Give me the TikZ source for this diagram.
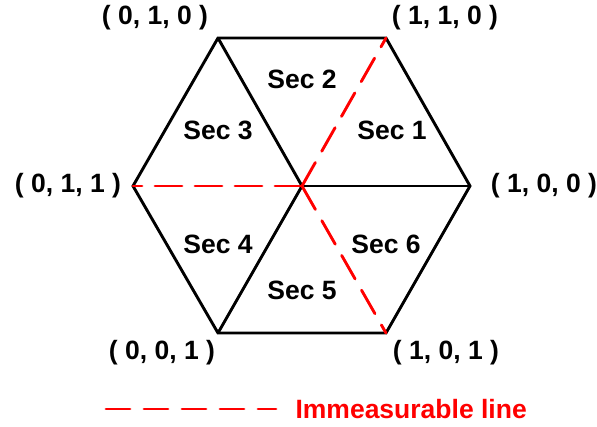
\documentclass[tikz,border=0pt]{standalone}
\usepackage{fontspec}
\setmainfont{Liberation Sans}
\usetikzlibrary{arrows}

\begin{document}
\begin{tikzpicture}[x=1pt,y=-1pt,font=\fontsize{26.5}{31}\selectfont\bfseries,
  solidline/.style={black,line width=2.9pt,line join=miter},
  redline/.style={red,line width=2.9pt,dash pattern=on 27pt off 13pt,line cap=round}]
\useasboundingbox (0,0) rectangle (597,426);

\coordinate (V010) at (218,38);
\coordinate (V110) at (386,38);
\coordinate (V100) at (470,186);
\coordinate (V101) at (386,333);
\coordinate (V001) at (218,333);
\coordinate (V011) at (133,186);
\coordinate (O) at (302,186);

\draw[solidline] (V010) -- (V110) -- (V100) -- (V101) -- (V001) -- (V011) -- cycle;
\draw[solidline] (O) -- (V010);
\draw[solidline] (O) -- (V100);
\draw[solidline] (O) -- (V001);

\draw[redline] (O) -- (V110);
\draw[redline] (O) -- (V011);
\draw[redline] (O) -- (V101);

\node (a) at (155,18) {( 0, 1, 0 )};
\node (b) at (445,18) {( 1, 1, 0 )};
\node (c) at (68,186) {( 0, 1, 1 )};
\node (d) at (544,186) {( 1, 0, 0 )};
\node (e) at (162,353) {( 0, 0, 1 )};
\node (f) at (446,353) {( 1, 0, 1 )};

\node (s1) at (392,130) {Sec 1};
\node (s2) at (302,79) {Sec 2};
\node (s3) at (218,130) {Sec 3};
\node (s4) at (218,244) {Sec 4};
\node (s5) at (302,290) {Sec 5};
\node (s6) at (386,244) {Sec 6};

\coordinate (L1) at (106,409);
\coordinate (L2) at (276,409);
\draw[redline,dash pattern=on 24pt off 14pt] (L1) -- (L2);
\node[red,anchor=west] (leg) at (292,409) {Immeasurable line};
\end{tikzpicture}
\end{document}
